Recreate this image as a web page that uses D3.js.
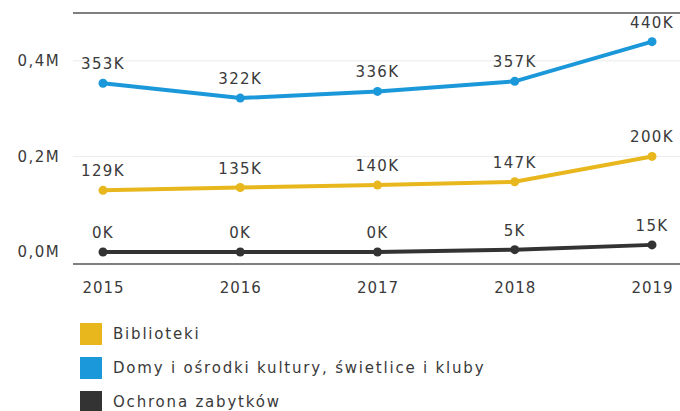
<!DOCTYPE html>
<html>
<head>
<meta charset="utf-8">
<script src="https://cdn.jsdelivr.net/npm/d3@7"></script>
<style>
  body { margin: 0; background: #fff; }
  text { font-family: "DejaVu Sans", sans-serif; fill: #3a3a3a; letter-spacing: 1.4px; }
</style>
</head>
<body>
<div id="chart"></div>
<script>
var width = 680, height = 411;

// data
var years = [2015, 2016, 2017, 2018, 2019];
var biblioteki = [129000, 135000, 140000, 147000, 200000];
var domyKultury = [353000, 322000, 336000, 357000, 440000];
var zabytki = [0, 0, 0, 5000, 15000];
var seriesNames = ["Biblioteki", "Domy i ośrodki kultury, świetlice i kluby", "Ochrona zabytków"];
var seriesColors = ["#e8b71e", "#1b98d9", "#333333"];
var yTicks = [0, 200000, 400000];

var series = [
    { name: seriesNames[0], color: seriesColors[0], values: biblioteki },
    { name: seriesNames[1], color: seriesColors[1], values: domyKultury },
    { name: seriesNames[2], color: seriesColors[2], values: zabytki }
];

var svg = d3.select("#chart")
    .append("svg")
    .attr("width", width)
    .attr("height", height);

var x = d3.scalePoint().domain(years).range([103, 652]);
var y = d3.scaleLinear().domain([-25000, 500000]).range([264, 13]);

// faint grid
svg.selectAll("line.grid")
    .data(yTicks.slice(1))
    .enter().append("line")
    .attr("class", "grid")
    .attr("x1", 73).attr("x2", width)
    .attr("y1", function (d) { return y(d); })
    .attr("y2", function (d) { return y(d); })
    .attr("stroke", "#ececec")
    .attr("stroke-width", 1);

// top and bottom frame lines
svg.append("line")
    .attr("x1", 73).attr("x2", width)
    .attr("y1", y(500000)).attr("y2", y(500000))
    .attr("stroke", "#555").attr("stroke-width", 1.5);
svg.append("line")
    .attr("x1", 73).attr("x2", width)
    .attr("y1", y(-25000)).attr("y2", y(-25000))
    .attr("stroke", "#555").attr("stroke-width", 1.5);

// y labels
svg.selectAll("text.ytick")
    .data(yTicks)
    .enter().append("text")
    .attr("class", "ytick")
    .attr("x", 60)
    .attr("y", function (d) { return y(d); })
    .attr("dy", "0.35em")
    .attr("text-anchor", "end")
    .style("font-size", "15px")
    .text(function (d) { return d3.format(".1f")(d / 1e6).replace(".", ",") + "M"; });

// x labels
var xAxis = d3.axisBottom(x).tickSize(0).tickPadding(0);
var gx = svg.append("g")
    .attr("transform", "translate(0,282)")
    .call(xAxis);
gx.select(".domain").remove();
gx.selectAll("text")
    .style("font-size", "15px")
    .style("font-family", "DejaVu Sans, sans-serif")
    .style("letter-spacing", "1px")
    .attr("fill", "#3a3a3a");

var line = d3.line()
    .x(function (d, i) { return x(years[i]); })
    .y(function (d) { return y(d); });

series.forEach(function (s) {
    svg.append("path")
        .datum(s.values)
        .attr("d", line)
        .attr("fill", "none")
        .attr("stroke", s.color)
        .attr("stroke-width", 4);

    svg.selectAll(null)
        .data(s.values)
        .enter().append("circle")
        .attr("cx", function (d, i) { return x(years[i]); })
        .attr("cy", function (d) { return y(d); })
        .attr("r", 4.5)
        .attr("fill", s.color);

    svg.selectAll(null)
        .data(s.values)
        .enter().append("text")
        .attr("x", function (d, i) { return x(years[i]); })
        .attr("y", function (d) { return y(d) - 14; })
        .attr("text-anchor", "middle")
        .style("font-size", "15px")
        .text(function (d) { return Math.round(d / 1000) + "K"; });
});

// legend
var legend = svg.selectAll("g.legend")
    .data(series)
    .enter().append("g")
    .attr("class", "legend")
    .attr("transform", function (d, i) { return "translate(80," + (323 + i * 34) + ")"; });

legend.append("rect")
    .attr("width", 22)
    .attr("height", 22)
    .attr("fill", function (d) { return d.color; });

legend.append("text")
    .attr("x", 33)
    .attr("y", 11)
    .attr("dy", "0.35em")
    .style("font-size", "15px")
    .style("letter-spacing", "1.8px")
    .text(function (d) { return d.name; });
</script>
</body>
</html>
